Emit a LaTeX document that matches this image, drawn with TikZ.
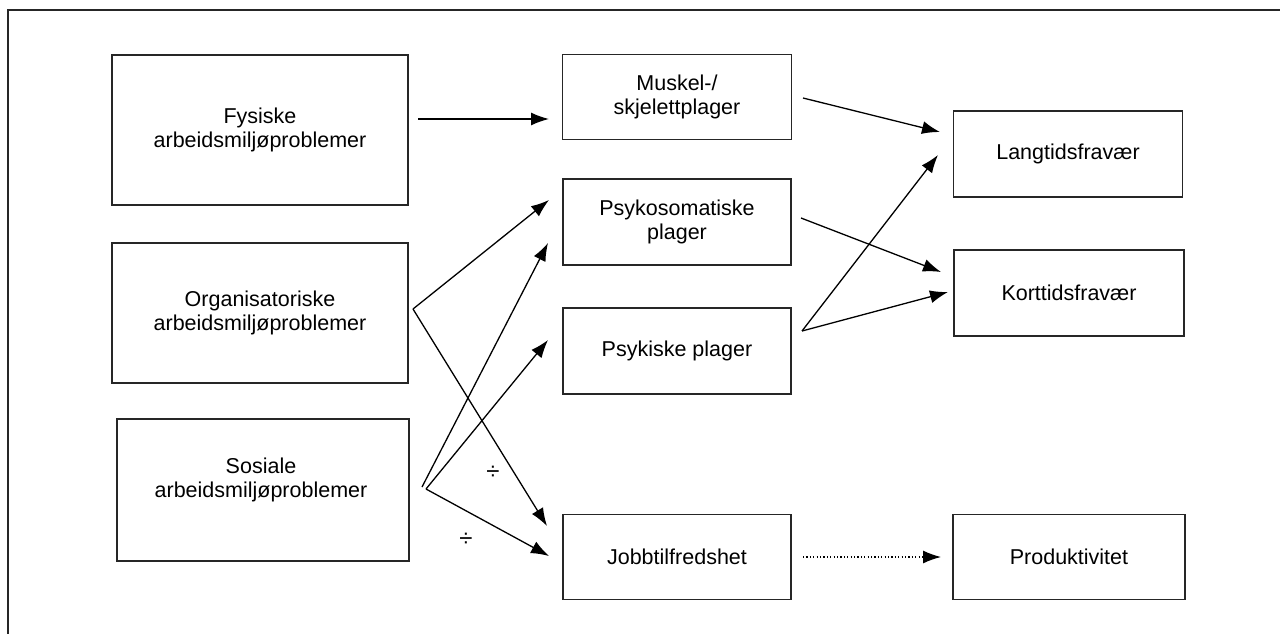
\documentclass[tikz,border=0pt]{standalone}
\usepackage{fontspec}
\setmainfont{Liberation Sans}
\usetikzlibrary{arrows.meta}
\begin{document}
\begin{tikzpicture}[x=1pt,y=-1pt,
  box/.style={draw=black!85,line width=1.3pt,rectangle,inner sep=0pt,align=center,
    font=\fontsize{21.5}{24}\selectfont},
  txt/.style={inner sep=0pt,align=center,font=\fontsize{21.5}{24}\selectfont},
  conn/.style={line width=1.3pt,-{Latex[length=18pt,width=13pt]}},
  lab/.style={font=\fontsize{24}{26}\selectfont,inner sep=0pt}]
\useasboundingbox (0,0) rectangle (1280,634);
\draw[line width=1.3pt,black!85] (8,634) -- (8,10) -- (1280,10);
% left column
\node[box,minimum width=296pt,minimum height=150pt] (fys) at (260,130) {Fysiske\\arbeidsmiljøproblemer};
\node[box,minimum width=296pt,minimum height=140pt] (org) at (260,313) {Organisatoriske\\arbeidsmiljøproblemer};
\node[box,minimum width=292pt,minimum height=142pt] (sos) at (263,490) {};
\node[txt] (sosT) at (261,480) {Sosiale\\arbeidsmiljøproblemer};
% middle column
\node[box,minimum width=229pt,minimum height=85pt] (mus) at (677,97) {Muskel-/\\skjelettplager};
\node[box,minimum width=228pt,minimum height=86pt] (pso) at (677,222) {Psykosomatiske\\plager};
\node[box,minimum width=228pt,minimum height=86pt] (psy) at (677,351) {Psykiske plager};
\node[box,minimum width=228pt,minimum height=85pt] (job) at (677,557) {Jobbtilfredshet};
% right column
\node[box,minimum width=229pt,minimum height=86pt] (lang) at (1068,154) {Langtidsfravær};
\node[box,minimum width=230pt,minimum height=86pt] (kort) at (1069,293) {Korttidsfravær};
\node[box,minimum width=232pt,minimum height=85pt] (prod) at (1069,557) {Produktivitet};
% connector end points
\coordinate (fysO) at (418,119);
\coordinate (musI) at (549,119);
\coordinate (musO) at (803,98);
\coordinate (langI1) at (940,132);
\coordinate (langI2) at (938,155);
\coordinate (psoO) at (801,218);
\coordinate (kortI1) at (941,272);
\coordinate (kortI2) at (948,292);
\coordinate (psyO) at (802,331);
\coordinate (orgO) at (413,309);
\coordinate (psoI1) at (549,200);
\coordinate (psoI2) at (548,243);
\coordinate (psyI) at (548,340);
\coordinate (jobI1) at (547,526);
\coordinate (jobI2) at (549,556);
\coordinate (sosO1) at (422,487);
\coordinate (sosO2) at (426,489);
\coordinate (jobO) at (803,557);
\coordinate (prodI) at (941,557);
% connectors
\draw[conn] (fysO) -- (musI);
\draw[conn] (musO) -- (langI1);
\draw[conn] (psoO) -- (kortI1);
\draw[conn] (psyO) -- (langI2);
\draw[conn] (psyO) -- (kortI2);
\draw[conn] (orgO) -- (psoI1);
\draw[conn] (orgO) -- (jobI1);
\draw[conn] (sosO1) -- (psoI2);
\draw[conn] (sosO2) -- (psyI);
\draw[conn] (sosO2) -- (jobI2);
\draw[conn,line width=1.2pt,dash pattern=on 1.2pt off 2.2pt] (jobO) -- (prodI);
% labels
\node[lab] (d1) at (493,473) {÷};
\node[lab] (d2) at (466,540) {÷};
\end{tikzpicture}
\end{document}
